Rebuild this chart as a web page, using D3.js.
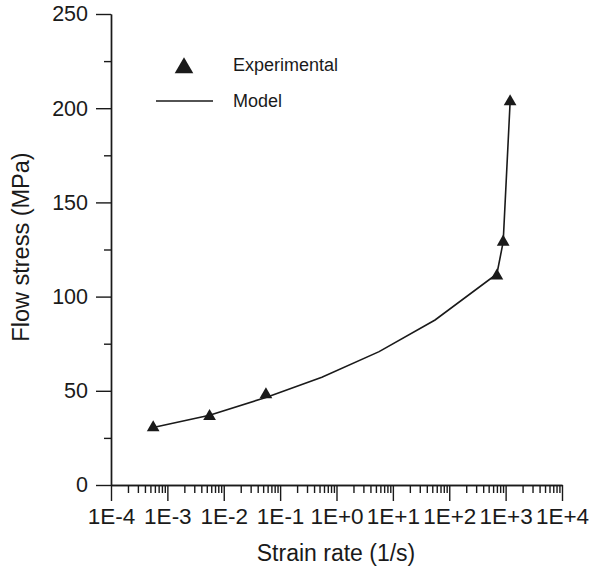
<!DOCTYPE html>
<html>
<head>
<meta charset="utf-8">
<script src="https://cdn.jsdelivr.net/npm/d3@7"></script>
<style>
  body { margin: 0; background: #fff; }
  text { font-family: "Liberation Sans", Arial, sans-serif; fill: #1a1a1a; }
</style>
</head>
<body>
<div id="chart"></div>
<script>
// chart data
const expRate = [5.6e-4, 5.6e-3, 5.6e-2, 700, 905, 1200];
const expStress = [30.5, 36.5, 48, 111, 129, 203.5];
const modelRate = [5.6e-4, 5.6e-3, 5.6e-2, 0.55, 5.7, 56, 700, 905, 1200];
const modelStress = [30.5, 37, 46.5, 57.2, 70.8, 87.6, 112, 129, 203];
const yMajor = [0, 50, 100, 150, 200, 250];
const yMinor = [25, 75, 125, 175, 225];
const xMajor = [1e-4, 1e-3, 1e-2, 1e-1, 1e0, 1e1, 1e2, 1e3, 1e4];
const legendLabels = ["Experimental", "Model"];

const W = 594, H = 569;
const ink = "#1a1a1a";

const svg = d3.select("#chart").append("svg")
    .attr("width", W).attr("height", H);

const x = d3.scaleLog().domain([1e-4, 1e4]).range([111, 562]);
const y = d3.scaleLinear().domain([0, 250]).range([485, 14]);

// minor x ticks: 2..9 in each decade
let xMinor = [];
for (let i = 0; i < xMajor.length - 1; i++) {
    for (let k = 2; k <= 9; k++) xMinor.push(xMajor[i] * k);
}

function expLabel(d) {
    const e = Math.round(Math.log10(d));
    return "1E" + (e < 0 ? "-" : "+") + Math.abs(e);
}

// x axis
const gx = svg.append("g").attr("transform", `translate(0,${y(0)})`);
gx.append("g")
    .call(d3.axisBottom(x).tickValues(xMinor).tickSize(8).tickSizeOuter(0).tickFormat(""));
const gxMajor = gx.append("g")
    .call(d3.axisBottom(x).tickValues(xMajor).tickSize(16).tickSizeOuter(0).tickPadding(7).tickFormat(expLabel));

// y axis
const gy = svg.append("g").attr("transform", `translate(${x(1e-4)},0)`);
gy.append("g")
    .call(d3.axisLeft(y).tickValues(yMinor).tickSize(7).tickSizeOuter(0).tickFormat(""));
const gyMajor = gy.append("g")
    .call(d3.axisLeft(y).tickValues(yMajor).tickSize(15).tickSizeOuter(0).tickPadding(8).tickFormat(d3.format("d")));

svg.selectAll(".domain, .tick line").attr("stroke", ink).attr("stroke-width", 1.4);
svg.selectAll(".tick text").attr("font-family", "Liberation Sans, Arial, sans-serif").attr("fill", ink);
gxMajor.selectAll(".tick text").attr("font-size", 22.5);
gyMajor.selectAll(".tick text").attr("font-size", 21.5);

// axis titles
svg.append("text")
    .attr("x", 336).attr("y", 561)
    .attr("text-anchor", "middle")
    .attr("font-size", 23)
    .text("Strain rate (1/s)");

svg.append("text")
    .attr("transform", "translate(29,247) rotate(-90)")
    .attr("text-anchor", "middle")
    .attr("font-size", 23.5)
    .text("Flow stress (MPa)");

// model line
const model = modelRate.map((r, i) => [r, modelStress[i]]);
svg.append("path")
    .datum(model)
    .attr("fill", "none")
    .attr("stroke", ink)
    .attr("stroke-width", 1.6)
    .attr("d", d3.line().x(d => x(d[0])).y(d => y(d[1])));

// experimental points
const exp = expRate.map((r, i) => [r, expStress[i]]);
const tri = d3.symbol(d3.symbolTriangle, 70);
svg.selectAll(".pt")
    .data(exp)
    .enter().append("path")
    .attr("class", "pt")
    .attr("d", tri)
    .attr("fill", ink)
    .attr("transform", d => `translate(${x(d[0])},${y(d[1])})`);

// legend
svg.append("path")
    .attr("d", d3.symbol(d3.symbolTriangle, 150)())
    .attr("fill", ink)
    .attr("transform", "translate(184,68)");
svg.append("line")
    .attr("x1", 156).attr("x2", 213)
    .attr("y1", 101).attr("y2", 101)
    .attr("stroke", ink).attr("stroke-width", 1.6);
svg.selectAll(".leg")
    .data(legendLabels)
    .enter().append("text")
    .attr("class", "leg")
    .attr("x", 233)
    .attr("y", (d, i) => 71 + i * 36)
    .attr("font-size", 18)
    .text(d => d);
</script>
</body>
</html>
